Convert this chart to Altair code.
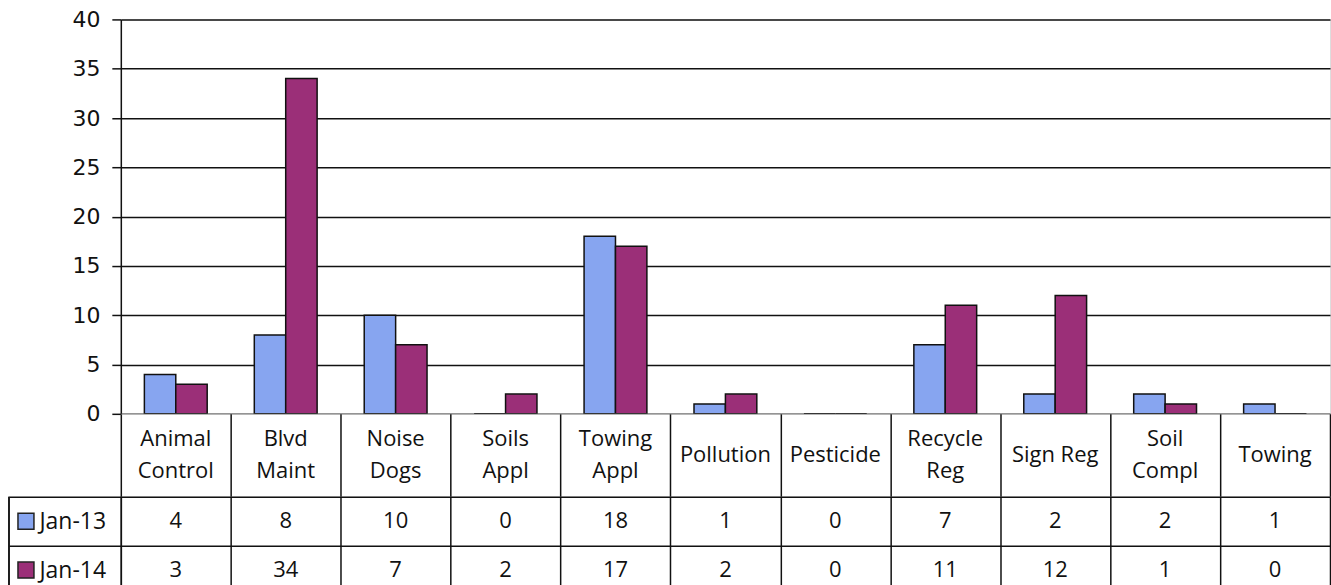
import altair as alt
import pandas as pd

categories = ["Animal Control", "Blvd Maint", "Noise Dogs", "Soils Appl", "Towing Appl",
              "Pollution", "Pesticide", "Recycle Reg", "Sign Reg", "Soil Compl", "Towing"]
header_lines = [["Animal", "Control"], ["Blvd", "Maint"], ["Noise", "Dogs"], ["Soils", "Appl"],
                ["Towing", "Appl"], ["Pollution"], ["Pesticide"], ["Recycle", "Reg"],
                ["Sign Reg"], ["Soil", "Compl"], ["Towing"]]
series = ["Jan-13", "Jan-14"]
jan13 = [4, 8, 10, 0, 18, 1, 0, 7, 2, 2, 1]
jan14 = [3, 34, 7, 2, 17, 2, 0, 11, 12, 1, 0]
colors = ["#87A5F0", "#9B2F78"]
y_ticks = [0, 5, 10, 15, 20, 25, 30, 35, 40]

rows = []
for c, a, b in zip(categories, jan13, jan14):
    rows.append({"cat": c, "series": "Jan-13", "value": a})
    rows.append({"cat": c, "series": "Jan-14", "value": b})
df = pd.DataFrame(rows)
hdr = pd.DataFrame({"cat": categories, "label": header_lines,
                    "nlines": [len(h) for h in header_lines]})
leg = pd.DataFrame({"series": series})

W = 1211
LINE = "#111111"
TFONT = "Open Sans"
TSIZE = 22
LH = 32

xscale = alt.Scale(domain=categories, paddingInner=0, paddingOuter=0)
color = alt.Color("series:N", scale=alt.Scale(domain=series, range=colors), legend=None)

bars = alt.Chart(df).mark_bar(stroke=LINE, strokeWidth=1.5).encode(
    x=alt.X("cat:N", scale=xscale, sort=categories, axis=None),
    xOffset=alt.XOffset("series:N", scale=alt.Scale(domain=series, paddingInner=0, paddingOuter=0.75)),
    y=alt.Y("value:Q", scale=alt.Scale(domain=[0, 40], nice=False),
            axis=alt.Axis(values=y_ticks, grid=True, gridColor=LINE, gridWidth=1.5, gridOpacity=1,
                          tickSize=9, tickColor=LINE, tickWidth=1.5, domainColor=LINE, domainWidth=1.5,
                          labelFont="DejaVu Sans", labelFontSize=22, labelColor="#111",
                          labelPadding=12, title=None)),
    color=color,
).properties(width=W, height=395)

xgrid_axis = alt.Axis(grid=True, tickBand="extent", gridColor=LINE, gridWidth=1.5, gridOpacity=1,
                      labels=False, ticks=False, domain=False, title=None)

hbase = alt.Chart(hdr).encode(
    x=alt.X("cat:N", scale=xscale, sort=categories, axis=xgrid_axis),
    y=alt.value(41.5),
    text="label",
)
h1 = hbase.transform_filter(alt.datum.nlines == 1).mark_text(
    font=TFONT, fontSize=TSIZE, color="#111", lineHeight=LH, baseline="middle")
h2 = hbase.transform_filter(alt.datum.nlines == 2).mark_text(
    font=TFONT, fontSize=TSIZE, color="#111", lineHeight=LH, baseline="middle", dy=-LH / 2)
header = alt.layer(h1, h2).properties(width=W, height=83)

vals = alt.Chart(df).mark_text(font=TFONT, fontSize=TSIZE, color="#111").encode(
    x=alt.X("cat:N", scale=xscale, sort=categories, axis=xgrid_axis),
    y=alt.Y("series:N", scale=alt.Scale(domain=series, paddingInner=0, paddingOuter=0),
            axis=alt.Axis(grid=True, tickBand="extent", gridColor=LINE, gridWidth=1.5, gridOpacity=1,
                          tickSize=112, tickColor=LINE, tickWidth=1.5, domainColor=LINE, domainWidth=1.5,
                          labelAlign="left", labelPadding=-30, labelFont=TFONT, labelFontSize=23,
                          labelColor="#111", title=None)),
    text="value:Q",
)
swatch = alt.Chart(leg).mark_point(shape="square", filled=True, size=256, stroke="#222",
                                   strokeWidth=1.5, opacity=1).encode(
    x=alt.value(-95),
    y=alt.Y("series:N", scale=alt.Scale(domain=series, paddingInner=0, paddingOuter=0)),
    color=color,
)
border = alt.Chart(leg).mark_rule(color=LINE, strokeWidth=1.5).encode(
    x=alt.value(-112), y=alt.value(0), y2=alt.value(98))
table = alt.layer(vals, swatch, border).properties(width=W, height=98)

chart = alt.vconcat(bars, header, table, spacing=0, bounds="flush").properties(
    padding={"left": 7, "top": 7, "right": 0, "bottom": 0}
).configure_view(stroke=LINE, strokeWidth=1.5).configure(background="white")

chart.save("out.html", embed_options={"renderer": "svg", "actions": False})
